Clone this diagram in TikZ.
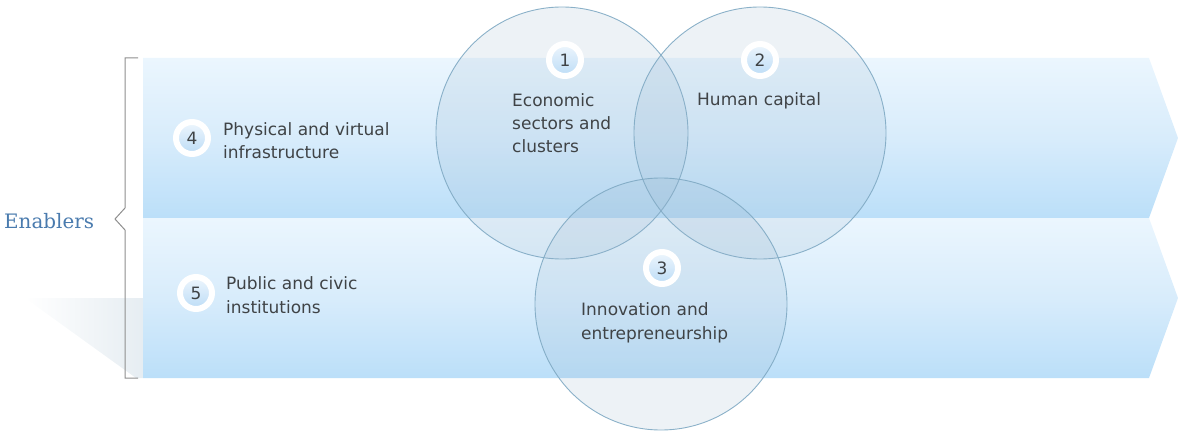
\documentclass[tikz,border=0pt]{standalone}
\usepackage{fontspec}
\setsansfont{DejaVu Sans}
\newfontfamily\enabfont{DejaVu Serif}
\usetikzlibrary{calc}
\definecolor{bandtop}{HTML}{EBF6FE}
\definecolor{bandmid}{HTML}{D8ECFB}
\definecolor{bandbot}{HTML}{BBDFF9}
\definecolor{circfill}{HTML}{94B3CC}
\definecolor{circedge}{HTML}{7FA9C3}
\definecolor{txt}{HTML}{3F4346}
\definecolor{enab}{HTML}{4A7BAE}
\definecolor{brack}{HTML}{8E8E8E}
\definecolor{shadowc}{HTML}{E6EDF2}
\definecolor{badgetop}{HTML}{EEF6FD}
\definecolor{badgebot}{HTML}{BCDCF6}
\tikzset{
  band/.style={top color=bandtop, bottom color=bandbot, middle color=bandmid, draw=none},
  venn/.style={circle, minimum size=252pt, inner sep=0pt, fill=circfill, fill opacity=0.17, draw=circedge, draw opacity=0.9, line width=0.9pt},
  badge/.style={circle, minimum size=32pt, inner sep=0pt, top color=badgetop, bottom color=badgebot, draw=white, line width=6pt, text=txt, font=\sffamily\fontsize{17}{20}\selectfont},
  label/.style={anchor=base west, inner sep=0pt, align=left, text=txt, font=\sffamily\fontsize{17}{23.3}\selectfont},
}
\begin{document}
\begin{tikzpicture}[x=1pt,y=-1pt]
\useasboundingbox (0,0) rectangle (1178,433);
% shadow
\shade[left color=white, right color=shadowc] (25,298) -- (143,298) -- (143,378) -- (136,378) -- cycle;
% bands
\shade[band] (143,58) -- (1149,58) -- (1178,138) -- (1149,218) -- (143,218) -- cycle;
\shade[band] (143,218) -- (1149,218) -- (1178,298) -- (1149,378) -- (143,378) -- cycle;
% bracket
\coordinate (bt) at (138,58);
\coordinate (bb) at (138,378);
\draw[brack, line width=1pt] (bt) -- (125,58) -- (125,208) -- (115,219) -- (125,230) -- (125,378) -- (bb);
\node[anchor=base west, inner sep=0pt, text=enab, font=\enabfont\fontsize{19.9}{24}\selectfont] (enablers) at (4,228) {Enablers};
% circles
\node[venn] (c1) at (562,133) {};
\node[venn] (c2) at (760,133) {};
\node[venn] (c3) at (661,304) {};
% badges
\node[badge] (b1) at (565,60) {1};
\node[badge] (b2) at (760,60) {2};
\node[badge] (b3) at (662,268) {3};
\node[badge] (b4) at (192,138) {4};
\node[badge] (b5) at (196,293) {5};
% labels (anchored at the baseline of the last line)
\node[label] (t1) at (512,153) {Economic\\sectors and\\clusters};
\node[label] (t2) at (697,106) {Human capital};
\node[label] (t3) at (581,339) {Innovation and\\entrepreneurship};
\node[label] (t4) at (223,159) {Physical and virtual\\infrastructure};
\node[label] (t5) at (226,313) {Public and civic\\institutions};
\end{tikzpicture}
\end{document}
